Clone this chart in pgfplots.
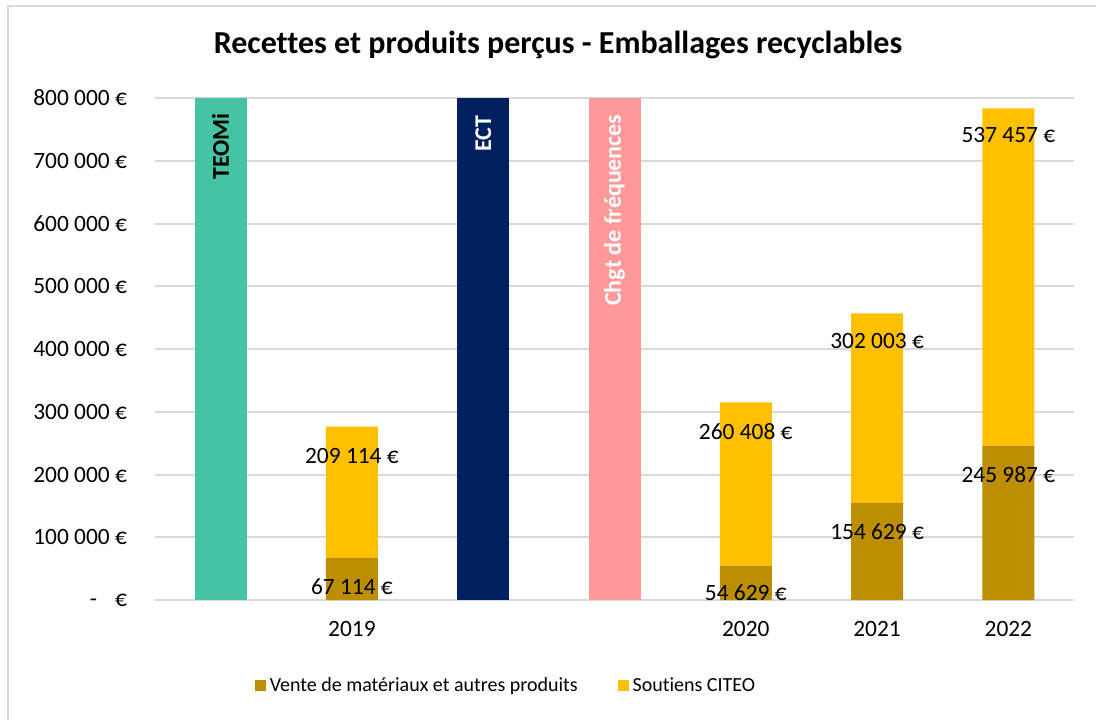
\documentclass[border=0pt]{standalone}
\usepackage{fontspec}
\setmainfont[Ligatures=NoCommon]{Carlito}
\usepackage{pgfplots}
\pgfplotsset{compat=1.18}

\definecolor{vente}{HTML}{BC8E00}
\definecolor{citeo}{HTML}{FFC000}
\definecolor{teomi}{HTML}{45C4A4}
\definecolor{ect}{HTML}{002060}
\definecolor{chgt}{HTML}{FF9999}
\definecolor{gridc}{HTML}{D9D9D9}

\newcommand{\lbl}{\fontsize{11.7}{13}\selectfont}

\pgfplotsset{
  frame/.style={
    at={(77.5pt,60pt)}, anchor=south west,
    scale only axis,
    width=459.5pt, height=251pt,
    xmin=-0.5, xmax=6.5,
    ymin=0, ymax=800000,
  }
}

\begin{document}
\begin{tikzpicture}
  % chart frame (left and top edges only, as in the reference)
  \draw[gridc, line width=1pt] (4pt,0pt) -- (4pt,357pt) -- (548pt,357pt);

  \node[font=\fontsize{16}{19}\selectfont\bfseries] at (279pt,337.5pt)
    {Recettes et produits perçus - Emballages recyclables};

  \begin{axis}[
    frame,
    ybar stacked,
    bar width=26pt,
    scaled y ticks=false,
    axis line style={draw=none},
    major tick length=0pt,
    ymajorgrids,
    grid style={gridc, line width=1pt},
    xtick={1,4,5,6},
    xticklabels={2019,2020,2021,2022},
    ytick={0,100000,...,800000},
    yticklabels={{-\hspace{9pt}€},100 000 €,200 000 €,300 000 €,400 000 €,500 000 €,600 000 €,700 000 €,800 000 €},
    ticklabel style={font=\lbl},
    yticklabel style={xshift=-10.5pt},
    xticklabel style={yshift=-7pt},
    legend style={at={(0.383,-0.171)}, anchor=center, draw=none, fill=none,
      font=\fontsize{10}{12}\selectfont, legend columns=2,
      /tikz/every even column/.append style={column sep=18pt}},
    legend image code/.code={\fill[#1] (0pt,-2.75pt) rectangle (5.5pt,2.75pt);},
  ]
  \addplot[fill=vente, draw=none] coordinates
    {(0,0) (1,67114) (2,0) (3,0) (4,54629) (5,154629) (6,245987)};
  \addplot[fill=citeo, draw=none] coordinates
    {(0,0) (1,209114) (2,0) (3,0) (4,260408) (5,302003) (6,537457)};
  \addplot[fill=teomi, draw=none] coordinates
    {(0,800000) (1,0) (2,0) (3,0) (4,0) (5,0) (6,0)};
  \addplot[fill=ect, draw=none] coordinates
    {(0,0) (1,0) (2,800000) (3,0) (4,0) (5,0) (6,0)};
  \addplot[fill=chgt, draw=none] coordinates
    {(0,0) (1,0) (2,0) (3,800000) (4,0) (5,0) (6,0)};
  \legend{Vente de matériaux et autres produits, Soutiens CITEO}
  \end{axis}

  % overlay axis for the labels, so they sit above the bars
  \begin{axis}[frame, axis lines=none, clip=false]
  \node[font=\lbl] at (axis cs:1,20700) {67 114 €};
  \node[font=\lbl] at (axis cs:1,229500) {209 114 €};
  \node[font=\lbl] at (axis cs:4,11150) {54 629 €};
  \node[font=\lbl] at (axis cs:4,267700) {260 408 €};
  \node[font=\lbl] at (axis cs:5,108400) {154 629 €};
  \node[font=\lbl] at (axis cs:5,412700) {302 003 €};
  \node[font=\lbl] at (axis cs:6,199200) {245 987 €};
  \node[font=\lbl] at (axis cs:6,741000) {537 457 €};

  \node[rotate=90, anchor=east, inner sep=0pt, font=\fontsize{12}{14}\selectfont\bfseries, text=black]
    at (axis cs:0,776000) {TEOMi};
  \node[rotate=90, anchor=east, inner sep=0pt, font=\fontsize{12}{14}\selectfont\bfseries, text=white]
    at (axis cs:2,773000) {ECT};
  \node[rotate=90, anchor=east, inner sep=0pt, font=\fontsize{12}{14}\selectfont\bfseries, text=white]
    at (axis cs:3,774500) {Chgt de fréquences};
  \end{axis}

  \pgfresetboundingbox
  \useasboundingbox (0pt,0pt) rectangle (548pt,360pt);
\end{tikzpicture}
\end{document}
